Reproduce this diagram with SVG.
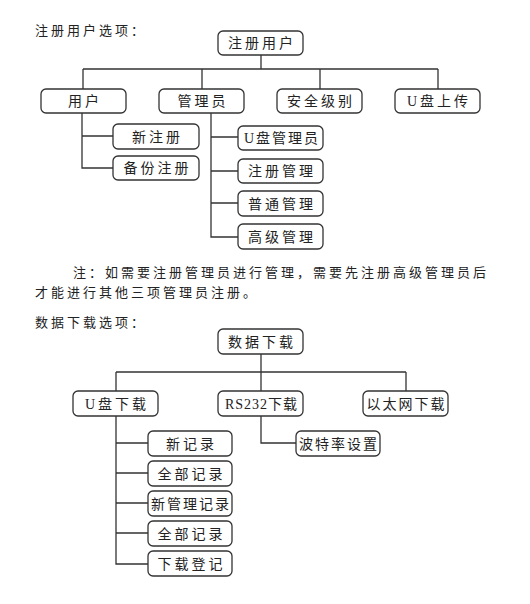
<svg xmlns="http://www.w3.org/2000/svg" width="530" height="604" viewBox="0 0 530 604">
<style>
.b{fill:#fff;stroke:#333;stroke-width:1.3}
.t{font-family:"Liberation Serif","Noto Sans CJK SC",serif;font-size:14px;fill:#222;text-anchor:middle;letter-spacing:3px}
.p{font-family:"Liberation Serif","Noto Sans CJK SC",serif;font-size:13px;fill:#222;letter-spacing:3px}
.c{fill:none;stroke:#333;stroke-width:1.3}
</style>
<rect width="530" height="604" fill="#fff"/>
<text class="p" x="35" y="35">注册用户选项：</text>
<text class="p" x="73" y="277">注：如需要注册管理员进行管理，需要先注册高级管理员后</text>
<text class="p" x="35" y="297">才能进行其他三项管理员注册。</text>
<text class="p" x="35" y="327">数据下载选项：</text>
<g id="connectors" class="c">
<path d="M261,55V69M83,69H438M83,69V89M202,69V89M320,69V89M438,69V89"/>
<path d="M82,113V168H113M82,136H113"/>
<path d="M211,113V237H238M211,137H238M211,171H238M211,203H238"/>
<path d="M261,354V372M116,372H406M116,372V391M261,372V391M406,372V391"/>
<path d="M116,416V564H148M116,443H148M116,473H148M116,503H148M116,533H148"/>
<path d="M261,416V443H296"/>
</g>
<g id="n-root1"><rect class="b" x="218" y="31" width="85" height="24" rx="5"/><text class="t" x="262" y="48">注册用户</text></g>
<g id="n-user"><rect class="b" x="41" y="89" width="85" height="24" rx="5"/><text class="t" x="85" y="106">用户</text></g>
<g id="n-admin"><rect class="b" x="159" y="89" width="85" height="24" rx="5"/><text class="t" x="203" y="106">管理员</text></g>
<g id="n-sec"><rect class="b" x="277" y="89" width="85" height="24" rx="5"/><text class="t" x="321" y="106">安全级别</text></g>
<g id="n-upl"><rect class="b" x="395" y="89" width="85" height="24" rx="5"/><text class="t" x="439" y="106">U盘上传</text></g>
<g id="n-new"><rect class="b" x="113" y="124" width="86" height="25" rx="5"/><text class="t" x="157.5" y="141.5">新注册</text></g>
<g id="n-backup"><rect class="b" x="113" y="156" width="86" height="24" rx="5"/><text class="t" x="157.5" y="173">备份注册</text></g>
<g id="n-uadmin"><rect class="b" x="238" y="126" width="85" height="24" rx="5"/><text class="t" x="282" y="143" style="letter-spacing:2px">U盘管理员</text></g>
<g id="n-regmgr"><rect class="b" x="238" y="159" width="85" height="24" rx="5"/><text class="t" x="282" y="176">注册管理</text></g>
<g id="n-normal"><rect class="b" x="238" y="191" width="85" height="25" rx="5"/><text class="t" x="282" y="208.5">普通管理</text></g>
<g id="n-adv"><rect class="b" x="238" y="224" width="85" height="25" rx="5"/><text class="t" x="282" y="241.5">高级管理</text></g>
<g id="n-root2"><rect class="b" x="218" y="329" width="85" height="25" rx="5"/><text class="t" x="262" y="346.5">数据下载</text></g>
<g id="n-udl"><rect class="b" x="73" y="391" width="85" height="25" rx="5"/><text class="t" x="117" y="408.5">U盘下载</text></g>
<g id="n-rs"><rect class="b" x="218" y="391" width="85" height="25" rx="5"/><text class="t" x="261.5" y="408.5" style="letter-spacing:1px">RS232下载</text></g>
<g id="n-eth"><rect class="b" x="363" y="391" width="85" height="25" rx="5"/><text class="t" x="406.5" y="408.5" style="letter-spacing:2px">以太网下载</text></g>
<g id="n-baud"><rect class="b" x="296" y="431" width="84" height="25" rx="5"/><text class="t" x="339" y="448.5" style="letter-spacing:2px">波特率设置</text></g>
<g id="n-rec1"><rect class="b" x="148" y="431" width="84" height="25" rx="5"/><text class="t" x="191.5" y="448.5">新记录</text></g>
<g id="n-rec2"><rect class="b" x="148" y="461" width="84" height="25" rx="5"/><text class="t" x="191.5" y="478.5">全部记录</text></g>
<g id="n-rec3"><rect class="b" x="148" y="491" width="84" height="25" rx="5"/><text class="t" x="191" y="508.5" style="letter-spacing:2px">新管理记录</text></g>
<g id="n-rec4"><rect class="b" x="148" y="521" width="84" height="25" rx="5"/><text class="t" x="191.5" y="538.5">全部记录</text></g>
<g id="n-rec5"><rect class="b" x="148" y="551" width="84" height="25" rx="5"/><text class="t" x="191.5" y="568.5">下载登记</text></g>
</svg>
